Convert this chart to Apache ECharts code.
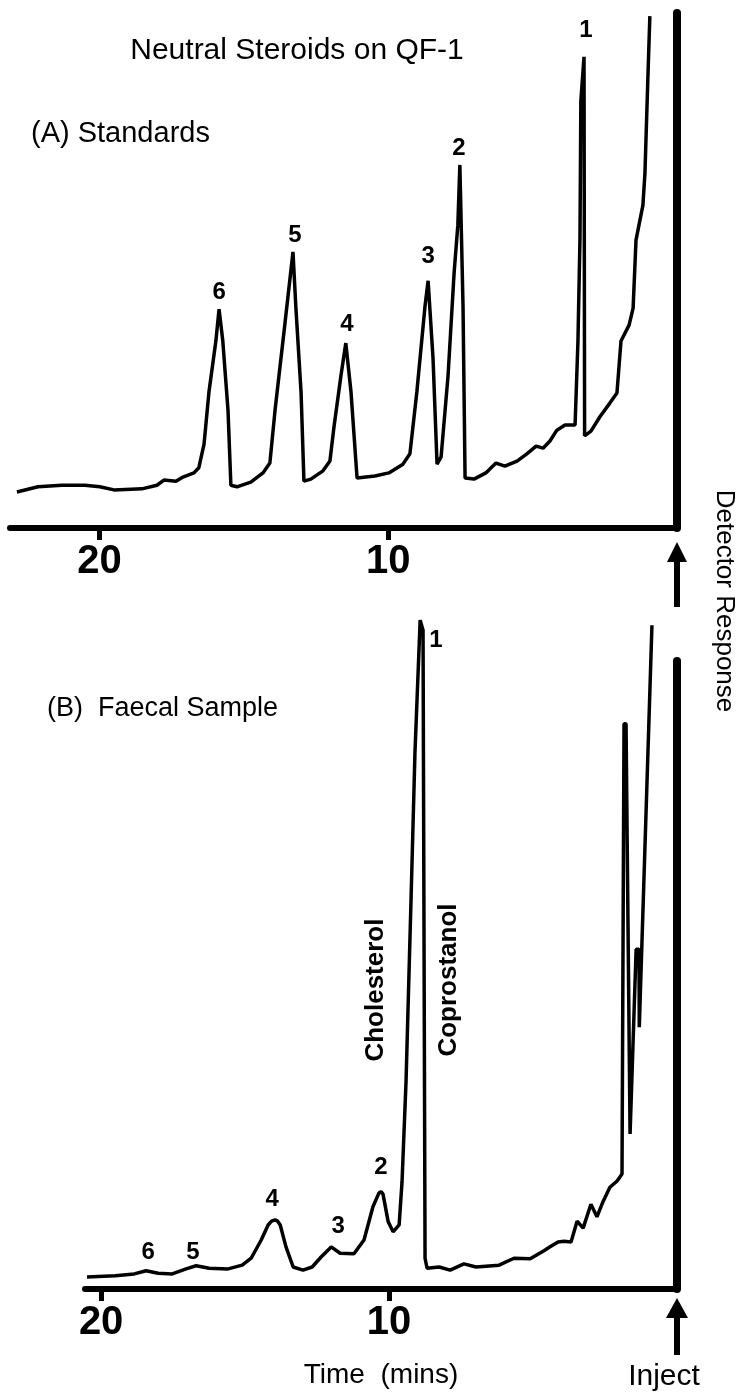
<!DOCTYPE html>
<html><head><meta charset="utf-8">
<script src="https://cdn.jsdelivr.net/npm/echarts@6/dist/echarts.min.js"></script>
<style>html,body{margin:0;padding:0;background:#fff}#c{width:742px;height:1394px}</style>
</head><body><div id="c"></div>
<script>
// ---- data (time in minutes before injection, detector response in arbitrary units) ----
const tickValues = [10, 20];

const timeA = [22.86,22.13,21.30,20.51,19.99,19.50,18.53,18.01,17.77,17.35,
  17.11,16.73,16.56,16.38,16.21,15.97,15.86,15.73,15.55,15.45,
  15.24,14.76,14.34,14.10,13.92,13.58,13.30,13.20,13.02,12.92,
  12.68,12.26,12.02,11.88,11.64,11.47,11.29,11.08,10.46,9.98,
  9.49,9.25,9.01,8.73,8.62,8.45,8.31,8.17,7.93,7.72,
  7.59,7.52,7.41,7.34,7.03,6.62,6.27,5.96,5.54,5.20,
  4.88,4.64,4.40,4.16,3.88,3.53,3.43,3.36,3.33,3.22,
  3.20,2.98,2.67,2.32,2.08,1.94,1.66,1.52,1.42,1.18,
  1.11,1.00,0.94];
const respA = [7.0,8.0,8.3,8.3,8.0,7.4,7.6,8.3,9.3,9.1,
  9.9,10.7,11.7,16.3,26.4,36.3,42.5,36.3,22.9,8.3,
  8.0,8.9,10.7,12.6,22.9,39.6,53.6,42.9,26.4,9.1,
  9.5,11.1,13.0,19.6,29.5,35.9,26.4,9.7,10.1,10.7,
  12.4,14.4,26.4,42.9,48.0,33.0,12.4,13.8,29.5,49.5,
  58.8,70.5,42.9,9.7,9.5,10.7,12.6,12.0,13.0,14.4,
  15.9,15.5,16.9,19.0,20.0,20.0,36.3,56.3,82.9,91.5,
  17.9,18.8,21.6,24.3,26.2,36.3,39.4,42.7,55.9,62.7,
  68.9,88.9,99.4];

const timeB = [20.49,19.51,18.85,18.44,18.02,17.53,17.05,16.70,16.25,15.59,
  15.10,14.79,14.44,14.20,14.08,13.96,13.87,13.78,13.58,13.33,12.99,12.67,
  12.36,12.01,11.70,11.22,10.87,10.56,10.35,10.28,10.21,10.03,9.86,
  9.65,9.55,9.41,9.24,9.10,8.92,8.82,8.75,8.68,8.26,
  7.88,7.40,6.98,6.18,5.66,5.10,4.62,4.38,4.13,3.92,
  3.68,3.47,3.26,2.99,2.78,2.57,2.33,2.08,1.91,1.84,
  1.77,1.63,1.42,1.32,1.31,1.25,0.87];
const respB = [1.9,2.1,2.4,2.9,2.5,2.4,3.2,3.7,3.3,3.2,
  3.8,4.9,7.8,10.2,10.8,11.0,10.8,10.2,6.7,3.5,3.0,3.5,
  5.1,6.7,5.7,5.6,7.8,13.1,15.3,15.5,15.1,10.7,9.1,
  10.2,17.0,33.1,61.5,85.5,106.5,104.9,4.9,3.3,3.5,
  3.0,4.0,3.5,3.8,4.9,4.8,6.1,6.8,7.5,7.6,
  7.5,10.8,9.7,13.5,11.5,13.9,16.2,17.2,18.3,90.0,
  90.0,24.7,54.1,54.1,41.7,41.7,105.7];

const peakNames = ['1','2','3','4','5','6'];
const peakTimeA = [3.15,7.55,8.62,11.43,13.23,15.86];
const peakRespA = [96.7,73.8,52.8,39.6,56.9,45.8];
const peakTimeB = [8.37,10.28,11.77,14.06,16.81,18.37];
const peakRespB = [103.3,19.4,9.9,14.3,5.9,5.9];

const compoundNames = ['Cholesterol','Coprostanol'];
const compoundTime = [10.45, 7.92];
const compoundResp = [47.6, 49.2];

const titleText = 'Neutral Steroids on QF-1';
const panelA = '(A) Standards';
const panelB = '(B)  Faecal Sample';
const yName = 'Detector Response';
const xName = 'Time  (mins)';
const injectText = 'Inject';

// ---- chart ----
const FONT = 'Liberation Sans';
const chart = echarts.init(document.getElementById('c'), null, {renderer:'canvas'});
const zip = (a, b) => a.map((v, i) => [v, b[i]]);
const zip3 = (a, b, c) => a.map((v, i) => [v, b[i], c[i]]);

function xAxisCfg(gi, max, name) {
  return {
    type:'value', gridIndex:gi, min:0, max:max, inverse:true, position:'bottom',
    axisLine:{show:true, onZero:false, lineStyle:{color:'#000', width:6}},
    axisTick:{show:true, customValues:tickValues, length:12, lineStyle:{color:'#000', width:5}},
    axisLabel:{show:true, customValues:tickValues, margin:14, color:'#000',
      fontFamily:FONT, fontWeight:'bold', fontSize:40},
    splitLine:{show:false},
    name:name, nameLocation:'middle', nameGap:72,
    nameTextStyle:{color:'#000', fontFamily:FONT, fontSize:28}
  };
}
function yAxisCfg(gi) {
  return {
    type:'value', gridIndex:gi, min:0, max:100, position:'right',
    axisLine:{show:true, lineStyle:{color:'#000', width:8}},
    axisTick:{show:false}, axisLabel:{show:false}, splitLine:{show:false}
  };
}
const lineStyle = {color:'#000', width:3.5};
function labelSeries(gi, data, size, rotate) {
  return {
    type:'scatter', xAxisIndex:gi, yAxisIndex:gi, data:data, symbolSize:1, clip:false,
    itemStyle:{color:'#fff', opacity:0}, silent:true,
    label:{show:true, position:'inside', rotate:rotate || 0, formatter:p => p.data[2],
      color:'#000', opacity:1, textBorderWidth:0, textBorderColor:'transparent',
      fontFamily:FONT, fontWeight:'bold', fontSize:size}
  };
}

chart.setOption({
  animation:false,
  backgroundColor:'#fff',
  grid:[
    {left:10, right:65, top:13, bottom:866},
    {left:85, right:65, top:661, bottom:105}
  ],
  xAxis:[xAxisCfg(0, 23.1, ''), xAxisCfg(1, 20.56, xName)],
  yAxis:[yAxisCfg(0), yAxisCfg(1)],
  series:[
    {type:'line', xAxisIndex:0, yAxisIndex:0, data:zip(timeA, respA), showSymbol:false,
      clip:false, lineStyle:lineStyle},
    {type:'line', xAxisIndex:1, yAxisIndex:1, data:zip(timeB, respB), showSymbol:false,
      clip:false, lineStyle:lineStyle},
    labelSeries(0, zip3(peakTimeA, peakRespA, peakNames), 24),
    labelSeries(1, zip3(peakTimeB, peakRespB, peakNames), 24),
    labelSeries(1, zip3(compoundTime, compoundResp, compoundNames), 26, 90)
  ]
});

function arrow(gi, tipGap, headH, headW, totalLen, shaftW) {
  const p = chart.convertToPixel({xAxisIndex:gi, yAxisIndex:gi}, [0, 0]);
  const x = p[0], y = p[1] + tipGap;
  return [
    {type:'polygon', shape:{points:[[x, y], [x - headW/2, y + headH], [x + headW/2, y + headH]]},
      style:{fill:'#000'}},
    {type:'rect', shape:{x:x - shaftW/2, y:y + headH - 1, width:shaftW, height:totalLen - headH},
      style:{fill:'#000'}}
  ];
}
const pB = chart.convertToPixel({xAxisIndex:1, yAxisIndex:1}, [0, 0]);
chart.setOption({
  graphic:[
    {type:'text', x:297, y:51, style:{text:titleText, font:'30px "Liberation Sans"', fill:'#000',
      textAlign:'center', textVerticalAlign:'middle'}},
    {type:'text', x:31, y:134, style:{text:panelA, font:'29px "Liberation Sans"', fill:'#000',
      textAlign:'left', textVerticalAlign:'middle'}},
    {type:'text', x:47, y:709, style:{text:panelB, font:'27px "Liberation Sans"', fill:'#000',
      textAlign:'left', textVerticalAlign:'middle'}},
    {type:'text', x:724, y:601, rotation:-Math.PI/2, style:{text:yName, font:'26px "Liberation Sans"',
      fill:'#000', textAlign:'center', textVerticalAlign:'middle'}},
    {type:'text', x:pB[0] - 13, y:1377, style:{text:injectText, font:'30px "Liberation Sans"', fill:'#000',
      textAlign:'center', textVerticalAlign:'middle'}},
    ...arrow(0, 14, 20, 20, 66, 6),
    ...arrow(1, 9, 20, 22, 58, 6)
  ]
});
</script></body></html>
